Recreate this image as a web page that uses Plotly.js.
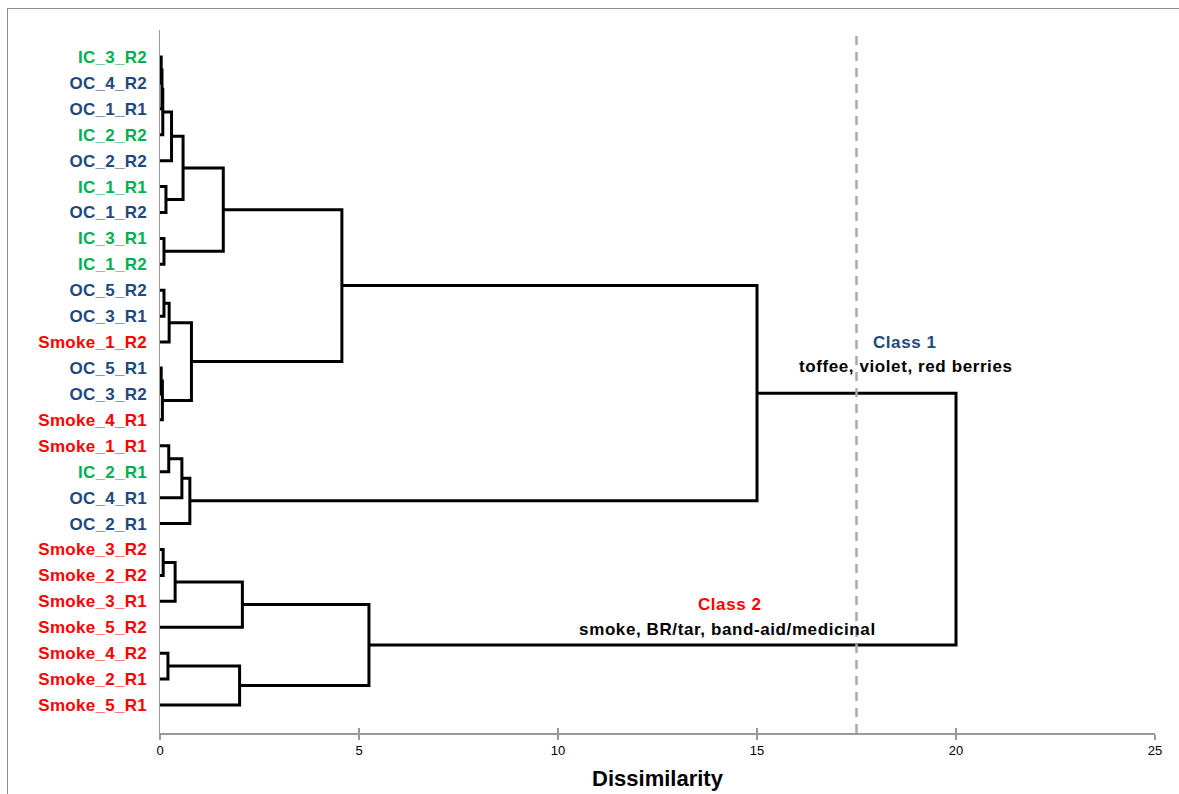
<!DOCTYPE html>
<html><head><meta charset="utf-8">
<script src="https://cdn.plot.ly/plotly-3.0.1.min.js"></script>
<style>
html,body{margin:0;padding:0;background:#fff;}
#chart{position:absolute;left:0;top:0;width:1179px;height:794px;}
#frame{position:absolute;left:7px;top:8px;width:1190px;height:800px;border:1px solid #8c8c8c;box-sizing:border-box;pointer-events:none;}
#chart .ytick text{letter-spacing:0.3px;}
#chart .annotation-text{letter-spacing:0.6px;}
</style>
</head><body>
<div id="chart"></div><div id="frame"></div>
<script>
// Leaf order (top to bottom)
const leaves = ["IC_3_R2","OC_4_R2","OC_1_R1","IC_2_R2","OC_2_R2","IC_1_R1","OC_1_R2","IC_3_R1","IC_1_R2",
  "OC_5_R2","OC_3_R1","Smoke_1_R2","OC_5_R1","OC_3_R2","Smoke_4_R1",
  "Smoke_1_R1","IC_2_R1","OC_4_R1","OC_2_R1",
  "Smoke_3_R2","Smoke_2_R2","Smoke_3_R1","Smoke_5_R2","Smoke_4_R2","Smoke_2_R1","Smoke_5_R1"];
const groupColors = {IC:"#00B050", OC:"#1F497D", Smoke:"#FF0000"};
// Linkage: node 26+k joins mergeA[k] and mergeB[k] at mergeHeight[k]
const mergeA = [0,26,27,28,5,29,7,31,9,34,12,36,35,33,15,40,41,39,19,44,45,23,47,46,43];
const mergeB = [1,2,3,4,6,30,8,32,10,11,13,14,37,38,16,17,18,42,20,21,22,24,25,48,49];
const mergeHeight = [0.03,0.05,0.07,0.29,0.15,0.58,0.1,1.59,0.1,0.23,0.03,0.06,0.79,4.57,0.22,0.55,0.75,15.0,0.08,0.38,2.07,0.2,2.0,5.25,20.0];
const xTicks = [0,5,10,15,20,25];
const cutLevel = 17.5;

const n = leaves.length;
const pos = [], ht = [];
for (let i = 0; i < n; i++) { pos.push(i); ht.push(0); }
const lx = [], ly = [];
for (let k = 0; k < mergeA.length; k++) {
  const a = mergeA[k], b = mergeB[k], h = mergeHeight[k];
  lx.push(ht[a], h, h, ht[b], null);
  ly.push(pos[a], pos[a], pos[b], pos[b], null);
  pos.push((pos[a] + pos[b]) / 2);
  ht.push(h);
}
const tickText = leaves.map(s => '<span style="color:' + groupColors[s.split('_')[0]] + '">' + s + '</span>');
const F = "Liberation Sans, Arial, sans-serif";

const traces = [
  {x: lx, y: ly, mode: 'lines', line: {color: '#000', width: 3}, hoverinfo: 'skip', showlegend: false, xaxis: 'x', yaxis: 'y'},
  {x: [0], y: [0], mode: 'none', xaxis: 'x2', yaxis: 'y', showlegend: false, hoverinfo: 'skip'}
];
const layout = {
  width: 1179, height: 794,
  margin: {l: 160, r: 24, t: 30, b: 61},
  paper_bgcolor: 'rgba(0,0,0,0)', plot_bgcolor: 'rgba(0,0,0,0)',
  showlegend: false,
  xaxis: {range: [0, 25], tickvals: xTicks, ticks: 'outside', ticklen: 5, tickcolor: '#999', tickwidth: 1.5,
    showline: true, linecolor: '#999', linewidth: 1.5, showgrid: false, zeroline: false,
    tickfont: {family: F, size: 13, color: '#000'},
    title: {text: 'Dissimilarity', font: {family: F, size: 22, color: '#000', weight: 'bold'}, standoff: 13}},
  xaxis2: {range: [0, 25], overlaying: 'x', side: 'bottom', tickvals: xTicks, ticks: 'inside', ticklen: 5,
    tickcolor: '#999', tickwidth: 1.5, showticklabels: false, showgrid: false, zeroline: false, showline: false},
  yaxis: {range: [n + 0.08, -1.04], tickvals: leaves.map((s, i) => i), ticktext: tickText,
    ticks: '', ticklabelstandoff: 8, showline: true, linecolor: '#999', linewidth: 1.5,
    showgrid: false, zeroline: false, tickfont: {family: F, size: 17, weight: 'bold'}},
  shapes: [{type: 'line', xref: 'x', yref: 'paper', x0: cutLevel, x1: cutLevel, y0: 0, y1: 1,
    line: {color: '#aaa', width: 2.5, dash: '9px,7px'}}],
  annotations: [
    {x: 18.72, y: 11.03, xref: 'x', yref: 'y', text: 'Class 1', showarrow: false, font: {family: F, size: 17, color: '#1F497D', weight: 'bold'}},
    {x: 18.72, y: 11.96, xref: 'x', yref: 'y', text: 'toffee, violet, red berries', showarrow: false, font: {family: F, size: 17, color: '#000', weight: 'bold'}},
    {x: 14.32, y: 21.14, xref: 'x', yref: 'y', text: 'Class 2', showarrow: false, font: {family: F, size: 17, color: '#FF0000', weight: 'bold'}},
    {x: 14.25, y: 22.1, xref: 'x', yref: 'y', text: 'smoke, BR/tar, band-aid/medicinal', showarrow: false, font: {family: F, size: 17, color: '#000', weight: 'bold'}}
  ]
};
Plotly.newPlot('chart', traces, layout, {staticPlot: true});
</script>
</body></html>
